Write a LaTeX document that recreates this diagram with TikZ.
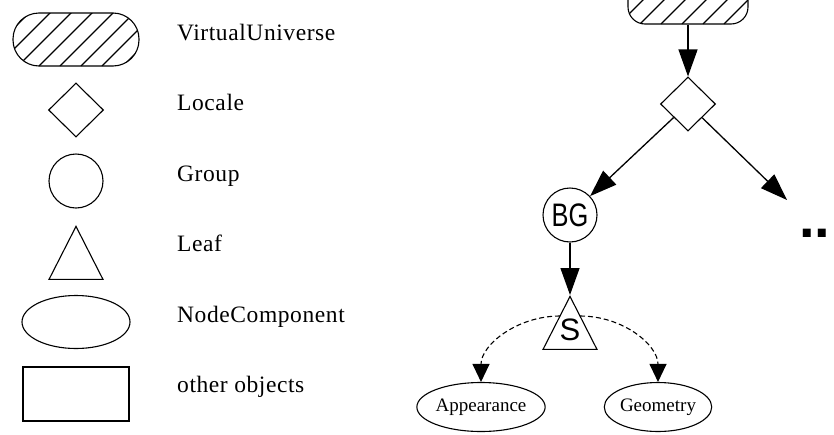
\documentclass[tikz,border=0pt]{standalone}
\usepackage{fontspec}
\setmainfont{Liberation Serif}
\newfontfamily\sansf{Liberation Sans}
\newfontfamily\labf[LetterSpace=2.5]{Liberation Serif}
\usetikzlibrary{shapes.geometric,arrows.meta,calc}
\tikzset{
  shp/.style={draw, line width=1.1pt, inner sep=0pt},
  hatchlines/.style={path picture={
      \foreach \k in {-3,...,8}{
        \draw[line width=1.1pt] ([xshift=#1+\k*21pt]path picture bounding box.south west) -- ++(80pt,80pt);}}},
  vustyle/.style={shp, rectangle, rounded corners=26pt, minimum width=126pt, minimum height=53pt, hatchlines=5pt},
  vutop/.style={shp, rectangle, rounded corners=17pt, minimum width=120pt, minimum height=58pt, hatchlines=12pt},
  locstyle/.style={shp, diamond, minimum width=55pt, minimum height=54pt},
  grpstyle/.style={shp, circle, minimum size=54pt},
  leafstyle/.style={shp, isosceles triangle, isosceles triangle stretches, shape border rotate=90,
      minimum width=54pt, minimum height=53pt, anchor=apex},
  compstyle/.style={shp, ellipse},
  otherstyle/.style={draw, line width=1.6pt, inner sep=0pt, rectangle, minimum width=106pt, minimum height=54pt},
  lab/.style={font=\labf\fontsize{23.5}{26}\selectfont, anchor=base west, inner sep=0pt},
  small/.style={font=\fontsize{19}{21}\selectfont},
  big/.style={font=\sansf\fontsize{31}{33}\selectfont},
  arr/.style={line width=1.3pt, -{Triangle[length=27pt,width=19pt]}},
  darr/.style={line width=1.1pt, dash pattern=on 5pt off 3pt, -{Triangle[length=18pt,width=17pt]}}
}
\begin{document}
\begin{tikzpicture}[x=1pt, y=-1pt]
\useasboundingbox (0,0) rectangle (834,434);
\clip (0,0) rectangle (834,434);
\fill[white] (0,0) rectangle (834,434);

% legend
\node[vustyle] (lvu) at (76,39.5) {};
\node[locstyle] (lloc) at (76,110) {};
\node[grpstyle] (lgrp) at (76,181) {};
\node[leafstyle] (lleaf) at (76,225) {};
\node[compstyle, minimum width=108pt, minimum height=53pt] (lcomp) at (76,322) {};
\node[otherstyle] (lother) at (76,394) {};

\node[lab] (t1) at (177,40) {VirtualUniverse};
\node[lab] (t2) at (177,110) {Locale};
\node[lab] (t3) at (177,181) {Group};
\node[lab] (t4) at (177,251) {Leaf};
\node[lab] (t5) at (177,322) {NodeComponent};
\node[lab] (t6) at (177,392) {other objects};

% scene graph
\node[vutop] (vu) at (688,-5) {};
\node[locstyle] (loc) at (688,104) {};
\node[grpstyle, big] (bg) at (570,215) {\scalebox{0.82}[1.05]{BG}};
\node[leafstyle] (s) at (570,295) {};
\node[big, inner sep=0pt] (slab) at (570,330) {S};
\node[compstyle, small, minimum width=107pt, minimum height=49pt] (app) at (481,407) {Appearance};
\node[compstyle, small, minimum width=107pt, minimum height=49pt] (geo) at (658,407) {Geometry};
\coordinate (more) at (787,200);
\node[font=\sansf\bfseries\fontsize{56}{56}\selectfont, anchor=base west, inner sep=0pt] (dots) at (799,237) {..};

\draw[arr] (vu) -- (loc);
\draw[arr] (loc) -- (bg);
\draw[arr] (loc) -- (more);
\draw[arr] (bg) -- (s.apex);
\draw[darr] ($(s.apex)+(-10,21)$) .. controls +(-43,0) and +(0,-37) .. (app.north);
\draw[darr] ($(s.apex)+(10,21)$) .. controls +(43,0) and +(0,-37) .. (geo.north);
\end{tikzpicture}
\end{document}
